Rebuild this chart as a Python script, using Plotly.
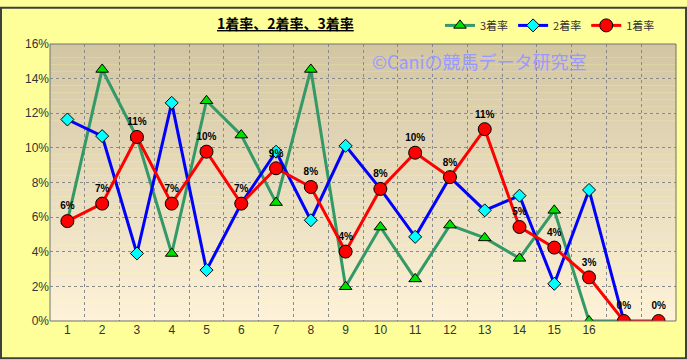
import math
import plotly.graph_objects as go

# ---- data ----
positions = list(range(1, 19))
tick_labels = [str(i) for i in range(1, 17)]
rate3 = [5.77, 14.53, 10.6, 3.9, 12.72, 10.74, 6.84, 14.53, 1.98, 5.43, 2.43, 5.54, 4.8, 3.62, 6.39, 0.0, 0.0]
rate2 = [11.64, 10.68, 3.9, 12.6, 2.94, 6.78, 9.78, 5.82, 10.12, 7.63, 4.86, 8.31, 6.39, 7.24, 2.15, 7.57, 0.0]
rate1 = [5.77, 6.78, 10.63, 6.78, 9.78, 6.78, 8.82, 7.74, 4.01, 7.63, 9.72, 8.31, 11.08, 5.43, 4.24, 2.52, 0.0, 0.0]
label1 = [f"{math.floor(v + 0.5)}%" for v in rate1]

W, H = 687, 360
ML, MR, MT, MB = 50, 11, 38, 39
PW, PH = W - ML - MR, H - MT - MB

fig = go.Figure()

fig.add_trace(go.Scatter(
    x=positions[:len(rate3)], y=rate3, name="3着率", mode="lines+markers",
    line=dict(color="#339966", width=3),
    marker=dict(symbol="triangle-up", size=11, color="#00E000", line=dict(color="#000000", width=1)),
))
fig.add_trace(go.Scatter(
    x=positions[:len(rate2)], y=rate2, name="2着率", mode="lines+markers",
    line=dict(color="#0000FF", width=3),
    marker=dict(symbol="diamond", size=10, color="#00FFFF", line=dict(color="#000000", width=1)),
))
fig.add_trace(go.Scatter(
    x=positions[:len(rate1)], y=rate1, name="1着率", mode="lines+markers+text",
    line=dict(color="#FF0000", width=3),
    marker=dict(symbol="circle", size=13, color="#FF0000", line=dict(color="#000000", width=1)),
    text=label1, textposition="top center",
    textfont=dict(family="Liberation Sans", size=10, color="#000000", weight="bold"),
))

# gradient background of the plot area
shapes = []
n = 40
top = (210, 198, 163)
bot = (253, 241, 216)
for i in range(n):
    t = i / (n - 1)
    c = tuple(round(bot[k] + (top[k] - bot[k]) * t) for k in range(3))
    shapes.append(dict(type="rect", xref="x domain", yref="y domain",
                       x0=0, x1=1, y0=i / n, y1=(i + 1) / n,
                       fillcolor=f"rgb{c}", line=dict(width=0), layer="below"))
# plot border
shapes.append(dict(type="rect", xref="x domain", yref="y domain", x0=0, x1=1, y0=0, y1=1,
                   line=dict(color="#707070", width=1), fillcolor="rgba(0,0,0,0)", layer="above"))
# outer border
shapes.append(dict(type="rect", xref="paper", yref="paper",
                   x0=(1 - ML) / PW, x1=(W - 1 - ML) / PW,
                   y0=-(MB - 1) / PH, y1=1 + (MT - 1) / PH,
                   line=dict(color="#404040", width=2), fillcolor="rgba(0,0,0,0)", layer="below"))

fig.update_layout(
    width=W, height=H,
    margin=dict(l=ML, r=MR, t=MT, b=MB),
    paper_bgcolor="#FFFF99",
    plot_bgcolor="rgba(0,0,0,0)",
    shapes=shapes,
    showlegend=True,
    legend=dict(orientation="h", x=(440 - ML) / PW, y=1 + (MT - 19) / PH,
                xanchor="left", yanchor="middle", bgcolor="rgba(0,0,0,0)",
                font=dict(family="Noto Sans CJK JP", size=11, color="#333333"),
                itemwidth=30, tracegroupgap=0),
    xaxis=dict(range=[0.5, 18.5], tickmode="array", tickvals=positions[:16], ticktext=tick_labels,
               showgrid=False, zeroline=False, ticks="", showline=False,
               tickfont=dict(family="Liberation Sans", size=12, color="#333333"),
               minor=dict(tickvals=[i + 0.5 for i in range(1, 18)], showgrid=True,
                          gridcolor="#8a8a8a", griddash="dot", gridwidth=1, ticks="")),
    yaxis=dict(range=[0, 16], tickvals=[0, 2, 4, 6, 8, 10, 12, 14, 16],
               ticktext=[f"{v}%" for v in [0, 2, 4, 6, 8, 10, 12, 14, 16]],
               showgrid=True, gridcolor="#8a8a8a", griddash="dot", gridwidth=1,
               zeroline=False, ticks="", showline=False,
               tickfont=dict(family="Liberation Sans", size=12, color="#333333")),
    annotations=[
        dict(text="<b><u>1着率、2着率、3着率</u></b>", xref="paper", yref="paper",
             x=(285 - ML) / PW, y=1 + (MT - 17) / PH, xanchor="center", yanchor="middle",
             showarrow=False, font=dict(family="Noto Sans CJK JP", size=14, color="#000000")),
        dict(text="©Caniの競馬データ研究室", xref="paper", yref="paper",
             x=(479 - ML) / PW, y=1 - (55 - MT) / PH, xanchor="center", yanchor="middle",
             showarrow=False, font=dict(family="Noto Sans CJK JP", size=18, color="#9999FF")),
    ],
)

fig.write_html("out.html")
